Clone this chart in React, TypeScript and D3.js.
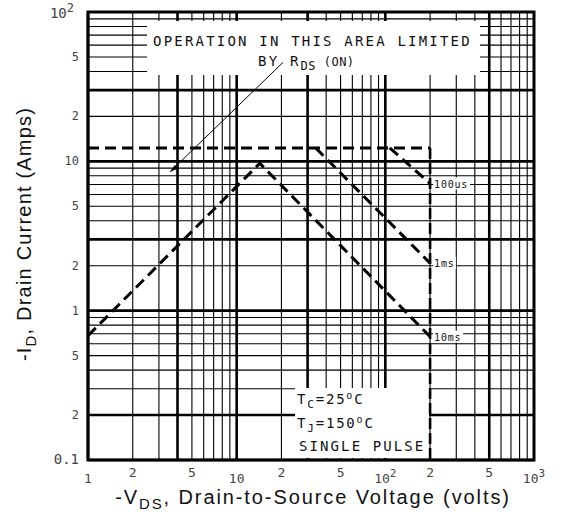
import React from 'react';
import * as d3 from 'd3';

// safe operating area
const idLimit: [number, number][] = [[1, 12.3], [200, 12.3]];
const vdssLimit: [number, number][] = [[200, 12.3], [200, 0.1]];
const dc10ms: [number, number][] = [[1, 0.68], [14.3, 9.7], [200, 0.67]];
const pulse1ms: [number, number][] = [[34, 12.3], [200, 2.08]];
const pulse100us: [number, number][] = [[107, 12.3], [200, 7.1]];
const rdsPointer: [number, number][] = [[20.5, 46], [3.56, 8.5]];

const xTicks = [1, 2, 5, 10, 20, 50, 100, 200, 500, 1000];
const xTickLabels = ['1', '2', '5', '10', '2', '5', '10|2', '2', '5', '10|3'];
const yTicks = [0.1, 0.2, 0.5, 1, 2, 5, 10, 20, 50, 100];
const yTickLabels = ['0.1', '2', '5', '1', '2', '5', '10', '2', '5', '10|2'];
const xBold = [4, 10, 30, 100, 500];
const yBold = [0.2, 1, 3, 10, 30];

const W = 561;
const H = 519;
const mono = '"DejaVu Sans Mono", "Liberation Mono", monospace';
const sans = '"Liberation Sans", Arial, sans-serif';

const TickText: React.FC<{ label: string; x: number; y: number; anchor: string; size?: number }> = ({ label, x, y, anchor, size = 12 }) => {
    const [base, sup] = label.split('|');
    return (
        <text x={x} y={y} textAnchor={anchor} fontFamily={mono} fontSize={size} fill="#444">
            {base}
            {sup && <tspan dy={-6} fontSize={size - 2}>{sup}</tspan>}
        </text>
    );
};

export default function App() {
    const x = d3.scaleLog().domain([1, 1000]).range([88, 534]);
    const y = d3.scaleLog().domain([0.1, 100]).range([460, 12]);
    const line = d3.line<[number, number]>().x((d) => x(d[0])).y((d) => y(d[1]));

    const gridX: number[] = [];
    const gridY: number[] = [];
    for (let e = 0; e < 3; e++) {
        for (let k = 1; k < 10; k++) {
            gridX.push(k * Math.pow(10, e));
            gridY.push(+(k * Math.pow(10, e - 1)).toFixed(3));
        }
    }

    const isBold = (v: number, list: number[]) => list.some((b) => Math.abs(b - v) < 1e-6) || Math.abs(Math.log10(v) % 1) < 1e-6;

    return (
        <svg width={W} height={H} style={{ position: 'absolute', left: 0, top: 0, background: '#fff' }}>
            <rect width={W} height={H} fill="#fff" />
            {/* grid */}
            {gridX.map((v) => (
                <line key={'gx' + v} x1={x(v)} x2={x(v)} y1={y(0.1)} y2={y(100)} stroke="#000" strokeWidth={isBold(v, xBold) ? 2.6 : 1.1} />
            ))}
            {gridY.map((v) => (
                <line key={'gy' + v} x1={x(1)} x2={x(1000)} y1={y(v)} y2={y(v)} stroke="#000" strokeWidth={isBold(v, yBold) ? 2.6 : 1.1} />
            ))}
            <rect x={x(1)} y={y(100)} width={x(1000) - x(1)} height={y(0.1) - y(100)} fill="none" stroke="#000" strokeWidth={3} />

            {/* annotation boxes */}
            <rect x={147} y={21} width={333} height={54} fill="#fff" />
            <text x={153} y={46} fontFamily={mono} fontSize={14} letterSpacing={2.2} fill="#111">OPERATION IN THIS AREA LIMITED</text>
            <text x={258} y={66} fontFamily={mono} fontSize={14} letterSpacing={2.2} fill="#111">
                BY R<tspan dy={4} fontSize={12} letterSpacing={0.5}>DS</tspan>
                <tspan dy={-4} fontSize={12} letterSpacing={0.5}> (ON)</tspan>
            </text>
            <rect x={295} y={388} width={134} height={70} fill="#fff" />
            <text x={297} y={404} fontFamily={mono} fontSize={14} letterSpacing={1.8} fill="#111">
                T<tspan dy={4} fontSize={11}>C</tspan><tspan dy={-4}>=25</tspan><tspan dy={-5} fontSize={10}>o</tspan><tspan dy={5}>C</tspan>
            </text>
            <text x={297} y={428} fontFamily={mono} fontSize={14} letterSpacing={1.8} fill="#111">
                T<tspan dy={4} fontSize={11}>J</tspan><tspan dy={-4}>=150</tspan><tspan dy={-5} fontSize={10}>o</tspan><tspan dy={5}>C</tspan>
            </text>
            <text x={299} y={451} fontFamily={mono} fontSize={14} letterSpacing={2.1} fill="#111">SINGLE PULSE</text>

            {/* limits */}
            <path d={line(rdsPointer) ?? ''} fill="none" stroke="#000" strokeWidth={1} />
            <path d={`M${x(3.56)},${y(8.5)} l8,-3 l-3,-4 z`} fill="#000" />
            <path d={line(idLimit) ?? ''} fill="none" stroke="#000" strokeWidth={3} strokeDasharray="11 6" />
            <path d={line(vdssLimit) ?? ''} fill="none" stroke="#000" strokeWidth={2.6} strokeDasharray="11 4" />
            <path d={line(dc10ms) ?? ''} fill="none" stroke="#000" strokeWidth={3} strokeDasharray="11 6" />
            <path d={line(pulse1ms) ?? ''} fill="none" stroke="#000" strokeWidth={3} strokeDasharray="11 6" />
            <path d={line(pulse100us) ?? ''} fill="none" stroke="#000" strokeWidth={3} strokeDasharray="11 6" />

            {/* curve labels */}
            {[['100us', 7.1], ['1ms', 2.08], ['10ms', 0.67]].map(([t, v]) => (
                <g key={t as string}>
                    <rect x={x(200) + 3} y={y(v as number) - 6} width={(t as string).length * 7 + 2} height={12} fill="#fff" />
                    <text x={x(200) + 4} y={y(v as number) + 4} fontFamily={mono} fontSize={10} letterSpacing={0.8} fill="#111">{t}</text>
                </g>
            ))}

            {/* tick labels */}
            {xTicks.map((v, i) => {
                const decade = Math.abs(Math.log10(v) % 1) < 1e-6;
                return <TickText key={'xt' + v} label={xTickLabels[i]} x={x(v)} y={decade ? 483 : 477} anchor="middle" size={13} />;
            })}
            {yTicks.map((v, i) => (
                <TickText key={'yt' + v} label={yTickLabels[i]} x={v === 100 ? 74 : 79} y={v === 100 ? 18 : y(v) + 4} anchor="end" size={v === 100 || v === 0.1 ? 14 : 12} />
            ))}

            {/* axis titles */}
            <text x={313} y={504} textAnchor="middle" fontFamily={sans} fontSize={20} letterSpacing={1.9} fill="#111">
                -V<tspan dy={5} fontSize={15}>DS</tspan><tspan dy={-5}>, Drain-to-Source Voltage (volts)</tspan>
            </text>
            <text transform="translate(31,234) rotate(-90)" textAnchor="middle" fontFamily={sans} fontSize={20} letterSpacing={1.2} fill="#111">
                -I<tspan dy={5} fontSize={15}>D</tspan><tspan dy={-5}>, Drain Current (Amps)</tspan>
            </text>
        </svg>
    );
}
